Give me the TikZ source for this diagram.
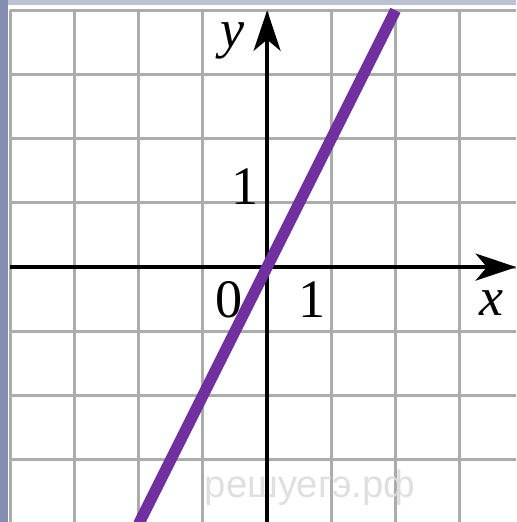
\documentclass[tikz,border=0pt]{standalone}
\usepackage{fontspec}
\setmainfont{Liberation Serif}
\newfontfamily\marksans{Liberation Sans}
\usetikzlibrary{arrows.meta}
\definecolor{graphline}{RGB}{112,48,160}
\definecolor{gridgray}{RGB}{172,172,172}
\definecolor{edgeblue}{RGB}{132,142,178}
\definecolor{edgetop}{RGB}{188,194,210}

\begin{document}
\begin{tikzpicture}[x=1cm,y=1cm,font=\fontsize{24}{24}\selectfont]
  \useasboundingbox (-4.16,-3.97) rectangle (3.88,4.16);
  \fill[edgetop] (-4.16,4.08) rectangle (3.88,4.16);
  \fill[edgeblue] (-4.16,-3.97) rectangle (-4.04,4.16);
  \draw[gridgray,line width=1.3pt] (-4,-3.97) grid (3.88,4);
  \node[gray!25,font=\marksans\fontsize{17}{17}\selectfont] (mark) at (0.67,-3.44) {решуегэ.рф};
  \draw[line width=1.5pt,-{Stealth[length=18pt,width=12pt,inset=5pt]}] (-4,0) -- (3.88,0);
  \draw[line width=1.5pt,-{Stealth[length=18pt,width=12pt,inset=5pt]}] (0,-3.97) -- (0,4);
  \draw[graphline,line width=5pt] (-2,-4) -- (2,4);
  \node (ylabel) at (-0.54,3.53) {\textit{y}};
  \node (ytick) at (-0.34,1.25) {1};
  \node (origin) at (-0.6,-0.51) {0};
  \node (xtick) at (0.7,-0.51) {1};
  \node (xlabel) at (3.5,-0.56) {\textit{x}};
\end{tikzpicture}
\end{document}
